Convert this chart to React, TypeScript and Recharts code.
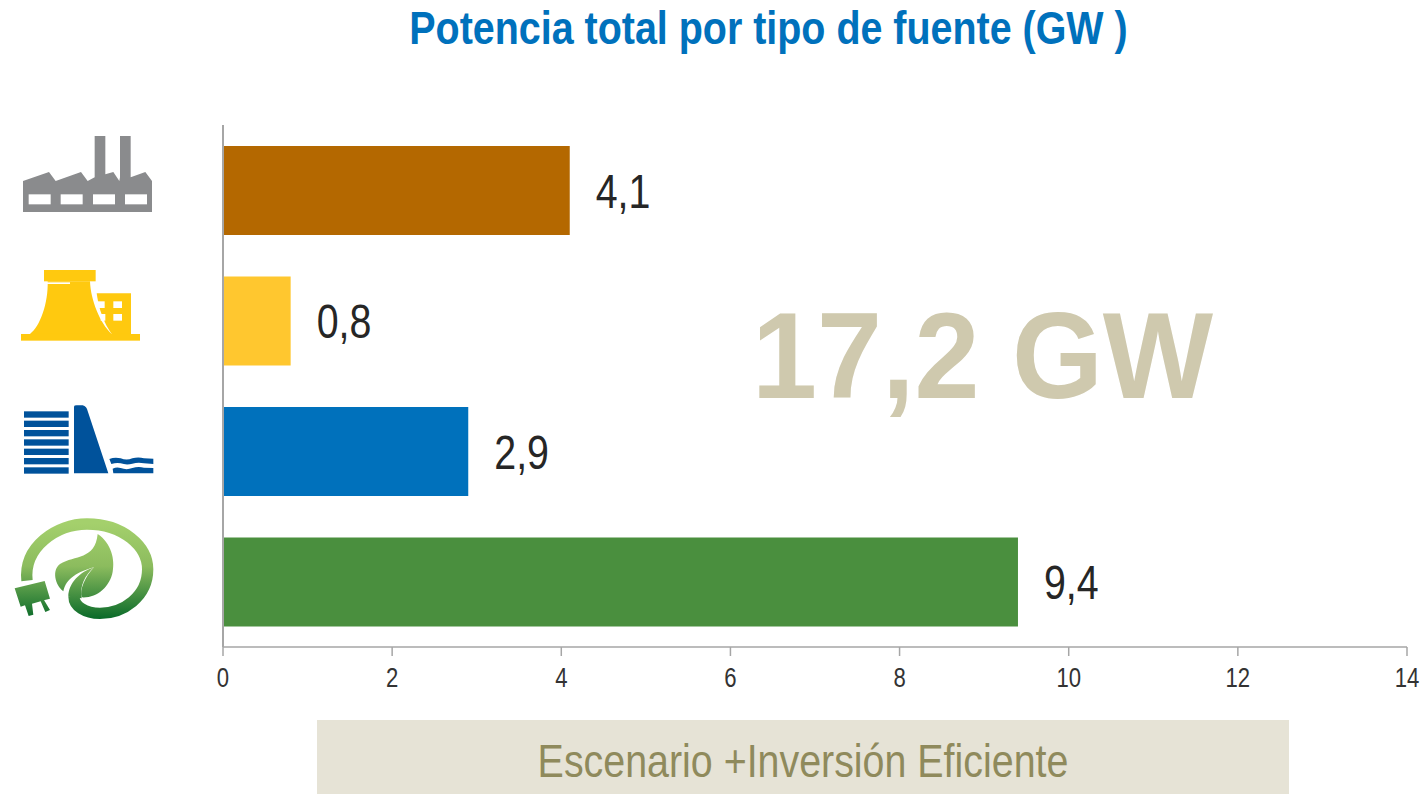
import { BarChart, Bar, XAxis, YAxis, Cell, LabelList } from "recharts";

const SANS = '"Liberation Sans", sans-serif';
// the original font is a narrow Arial; there is no narrow face here so text gets squeezed
const NARROW_X = 0.82;

const categories = ["Térmica", "Nuclear", "Hidráulica", "Renovable"];
const values = [4.1, 0.8, 2.9, 9.4];
const barColors = ["#b46800", "#ffc72f", "#0071bc", "#4a8f3e"];
const xTicks = [0, 2, 4, 6, 8, 10, 12, 14];

const chartData = categories.map((name, i) => ({ name, value: values[i] }));

// icons are traced at 3x, hence the scale(1/3)
function FactoryIcon() {
  return (
    <g>
      <path
        d="M69 183 L147 156 L167 183 L243 156 L263 183 L284 172 L284 48 L316 48 L316 163 L340 156 L358 183 L360 172 L360 48 L392 48 L392 172 L436 156 L456 183 L456 276 L69 276 Z"
        fill="#8a8b8d"
      />
      {[86, 182, 279, 375].map((x) => (
        <rect key={x} x={x} y={223} width={66} height={30} fill="#fff" />
      ))}
    </g>
  );
}

function NuclearIcon() {
  return (
    <g fill="#ffc90f" transform="translate(0 360)">
      <rect x={132} y={90} width={155} height={34} />
      <path d="M143 124 L270 124 C 272 180 300 250 335 282 L90 282 C 120 260 145 190 143 124 Z" />
      <path d="M290 160 L393 160 L393 282 L335 282 C 312 250 297 210 290 160 Z" />
      <rect x={63} y={282} width={357} height={20} />
      <rect x={135} y={127} width={75} height={5} fill="#fff" />
      <rect x={340} y={184} width={26} height={20} fill="#fff" />
      <rect x={340} y={222} width={26} height={20} fill="#fff" />
      <rect x={292} y={184} width={22} height={20} fill="#fff" />
      <rect x={302} y={222} width={14} height={20} fill="#fff" />
    </g>
  );
}

function DamIcon() {
  const stripes = [64, 92, 120, 148, 176, 204, 232];
  return (
    <g fill="#00529b" transform="translate(0 810)">
      {stripes.map((y) => (
        <rect key={y} x={72} y={y} width={134} height={19} />
      ))}
      <path d="M222 50 Q 222 46 230 46 L248 46 Q 260 48 264 66 L325 250 L222 250 Z" />
      <path d="M328 207 Q 345 200 362 205 Q 380 212 397 205 Q 415 200 432 205 L460 206 L460 222 L432 220 Q 415 216 397 221 Q 380 226 362 220 Q 350 217 334 222 Z" />
      <path d="M338 236 Q 350 230 362 234 Q 380 241 397 234 Q 415 228 432 233 L460 234 L460 250 L340 250 Z" />
    </g>
  );
}

function LeafIcon() {
  return (
    <g transform="translate(0 810)">
      <defs>
        <linearGradient id="leafGrad" gradientUnits="userSpaceOnUse" x1="0" y1="400" x2="0" y2="685">
          <stop offset="0" stopColor="#a4d06c" />
          <stop offset="0.45" stopColor="#8cbc5e" />
          <stop offset="1" stopColor="#0b6b2a" />
        </linearGradient>
      </defs>
      <path
        d="M81 572 C 70 470 170 402 261 402 C 370 402 443 470 443 538 C 443 620 370 670 300 670 C 255 670 222 648 222 620"
        fill="none"
        stroke="url(#leafGrad)"
        strokeWidth={34}
      />
      <path d="M205 620 C 205 580 240 545 282 532 C 255 555 238 590 245 625 Z" fill="url(#leafGrad)" />
      <path
        d="M293 432 C 335 460 345 510 338 545 C 330 590 290 625 245 622 C 238 600 255 560 282 532 C 235 545 198 565 190 604 C 165 585 155 540 180 522 C 225 495 285 510 293 432 Z"
        fill="url(#leafGrad)"
      />
      <path
        d="M44 595 L134 573 L150 626 L125 632 L132 630 L150 660 L136 666 L122 634 L96 641 L100 674 L86 678 L75 646 L62 650 Z"
        fill="url(#leafGrad)"
      />
    </g>
  );
}

const icons = [FactoryIcon, NuclearIcon, DamIcon, LeafIcon];

function IconTick(props: any) {
  const Icon = icons[props.index];
  if (!Icon) return null;
  return (
    <g transform="translate(0 120) scale(0.33333)">
      <Icon />
    </g>
  );
}

function NarrowTick({ x, y, payload }: any) {
  return (
    <text
      transform={`translate(${x} ${y + 29}) scale(${NARROW_X} 1)`}
      textAnchor="middle"
      fill="#333"
      fontFamily={SANS}
      fontSize={27}
    >
      {payload.value}
    </text>
  );
}

function ValueLabel({ x, y, width, height, value }: any) {
  return (
    <text
      transform={`translate(${x + width + 26} ${y + height / 2 + 17}) scale(${NARROW_X} 1)`}
      fill="#262626"
      fontFamily={SANS}
      fontSize={48}
    >
      {String(value).replace(".", ",")}
    </text>
  );
}

export default function App() {
  return (
    <div style={{ position: "absolute", left: 0, top: 0, width: 1422, height: 794, background: "#fff", overflow: "hidden" }}>
      <div
        style={{
          position: "absolute",
          left: 0,
          width: 1537,
          top: 0,
          textAlign: "center",
          fontFamily: SANS,
          fontWeight: 700,
          fontSize: 46,
          lineHeight: "56px",
          color: "#0071bc",
          transform: "scaleX(0.857)",
        }}
      >
        Potencia total por tipo de fuente (GW )
      </div>
      <div style={{ position: "absolute", left: 317, top: 720, width: 972, height: 74, background: "#e6e3d6" }} />
      <div
        style={{
          position: "absolute",
          left: 317,
          top: 731,
          width: 972,
          textAlign: "center",
          fontFamily: SANS,
          fontSize: 46,
          lineHeight: "60px",
          color: "#8f8a5c",
          transform: "scaleX(0.856)",
        }}
      >
        Escenario +Inversión Eficiente
      </div>
      <div
        style={{
          position: "absolute",
          left: 752,
          top: 286,
          fontFamily: SANS,
          fontWeight: 700,
          fontSize: 122,
          lineHeight: "140px",
          color: "#cfc9ae",
          whiteSpace: "nowrap",
          transform: "scaleX(0.958)",
          transformOrigin: "left center",
        }}
      >
        17,2 GW
      </div>
      <div style={{ position: "absolute", left: 0, top: 0 }}>
        <BarChart
          width={1422}
          height={720}
          data={chartData}
          layout="vertical"
          margin={{ top: 125, right: 15, bottom: 0, left: 0 }}
          barCategoryGap={0}
        >
          <XAxis
            type="number"
            domain={[0, 14]}
            ticks={xTicks}
            interval={0}
            tickSize={9}
            height={73}
            stroke="#a6a6a6"
            strokeWidth={1.5}
            tick={<NarrowTick />}
          />
          <YAxis
            type="category"
            dataKey="name"
            width={223}
            stroke="#a6a6a6"
            strokeWidth={2}
            tickLine={false}
            tick={<IconTick />}
            interval={0}
          />
          <Bar dataKey="value" barSize={89} isAnimationActive={false}>
            {chartData.map((d, i) => (
              <Cell key={d.name} fill={barColors[i]} />
            ))}
            <LabelList dataKey="value" content={<ValueLabel />} />
          </Bar>
        </BarChart>
      </div>
    </div>
  );
}
